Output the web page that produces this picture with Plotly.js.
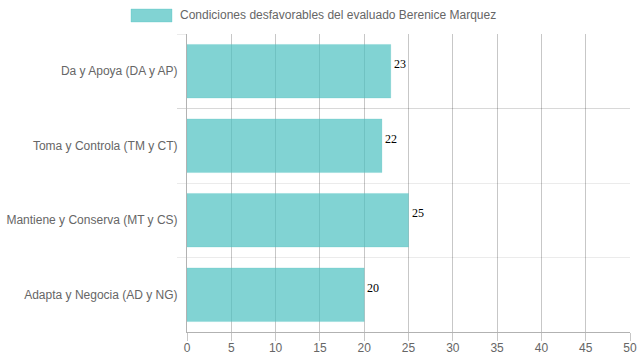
<!DOCTYPE html>
<html><head><meta charset="utf-8">
<script src="https://cdn.plot.ly/plotly-3.0.1.min.js"></script>
<style>html,body{margin:0;padding:0;background:#fff}#c{width:639px;height:360px}</style>
</head><body><div id="c"></div>
<script>
const categories = ["Da y Apoya (DA y AP)", "Toma y Controla (TM y CT)", "Mantiene y Conserva (MT y CS)", "Adapta y Negocia (AD y NG)"];
const values = [23, 22, 25, 20];
const seriesName = "Condiciones desfavorables del evaluado Berenice Marquez";
const xTicks = [0, 5, 10, 15, 20, 25, 30, 35, 40, 45, 50];

const trace = {
  type: "bar", orientation: "h",
  y: categories, x: values,
  name: seriesName,
  width: 0.72,
  marker: {color: "rgba(75,192,192,0.7)", line: {color: "rgba(75,192,192,0.2)", width: 1}},
  showlegend: false,
  hoverinfo: "none"
};

const valueLabels = categories.map((c, i) => ({
  xref: "x", yref: "y", x: values[i], y: c,
  xanchor: "left", yanchor: "middle", xshift: 1, yshift: 7,
  showarrow: false, text: String(values[i]),
  font: {family: "Liberation Serif", size: 12, color: "#000"}
}));

const layout = {
  width: 639, height: 360,
  margin: {l: 187, r: 9, t: 34, b: 28, pad: 0},
  paper_bgcolor: "#fff", plot_bgcolor: "#fff",
  font: {family: "Liberation Sans, Arial, sans-serif", size: 12, color: "#666"},
  bargap: 0,
  xaxis: {
    range: [0, 50], tickvals: xTicks, ticktext: xTicks.map(String),
    showgrid: true, gridcolor: "rgba(0,0,0,0.22)", gridwidth: 1,
    zeroline: false, showline: true, linecolor: "rgba(0,0,0,0.3)",
    ticks: "outside", ticklen: 8, tickcolor: "rgba(0,0,0,0.22)",
    tickfont: {size: 12, color: "#666"}, ticklabelstandoff: -3, fixedrange: true
  },
  yaxis: {
    type: "category", autorange: "reversed",
    tickson: "boundaries", showgrid: true, gridcolor: "rgba(0,0,0,0.08)",
    ticks: "outside", ticklen: 9, tickcolor: "rgba(0,0,0,0.08)",
    showline: true, linecolor: "rgba(0,0,0,0.3)", zeroline: false,
    tickfont: {size: 12, color: "#666"}, ticklabelstandoff: 6, fixedrange: true
  },
  shapes: [{
    type: "rect", xref: "paper", yref: "paper",
    x0: (131 - 187) / 443, x1: (172 - 187) / 443,
    y0: 1 + (34 - 22) / 298, y1: 1 + (34 - 9) / 298,
    fillcolor: "rgba(75,192,192,0.7)", line: {color: "rgba(75,192,192,0.3)", width: 1}
  }],
  annotations: [{
    xref: "paper", yref: "paper", x: (178 - 187) / 443, y: 1 + (34 - 15.5) / 298,
    xanchor: "left", yanchor: "middle", showarrow: false,
    text: seriesName, font: {size: 12, color: "#666"}
  }].concat(valueLabels)
};

Plotly.newPlot("c", [trace], layout, {displayModeBar: false, staticPlot: true});
</script></body></html>
